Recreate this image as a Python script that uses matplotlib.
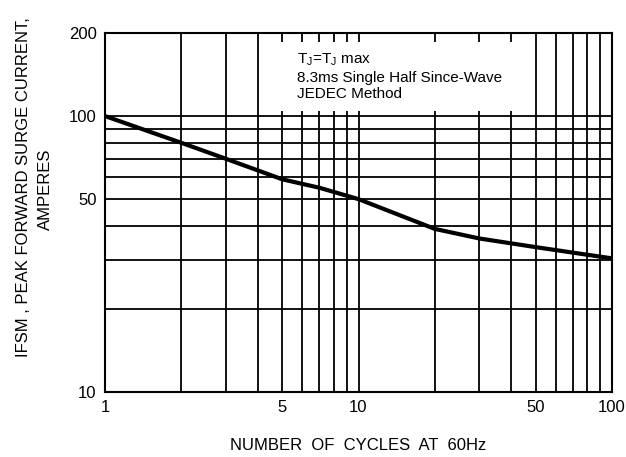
import matplotlib.pyplot as plt
from matplotlib.patches import Rectangle
from matplotlib.ticker import FixedLocator, NullFormatter

# Data
cycles = [1, 2, 3, 5, 7, 10, 20, 30, 50, 70, 100]
surge_current = [100, 80, 70, 59, 55, 50, 39, 36, 33.5, 32, 30.5]

x_ticks = [1, 5, 10, 50, 100]
y_ticks = [10, 50, 100, 200]
x_grid = [2, 3, 4, 5, 6, 7, 8, 9, 10, 20, 30, 40, 50, 60, 70, 80, 90]
y_grid = [20, 30, 40, 50, 60, 70, 80, 90, 100]

plt.rcParams['font.family'] = ['Liberation Sans', 'DejaVu Sans']
plt.rcParams['mathtext.fontset'] = 'custom'
plt.rcParams['mathtext.rm'] = 'Liberation Sans'

fig = plt.figure(figsize=(6.26, 4.57), dpi=100)
ax = fig.add_axes([105 / 626, 65 / 457, 507 / 626, 359 / 457])

ax.set_xscale('log')
ax.set_yscale('log')
ax.set_xlim(1, 100)
ax.set_ylim(10, 200)

# grid lines like the scanned datasheet
for xv in x_grid:
    ax.axvline(xv, color='black', lw=1.3, zorder=1)
for yv in y_grid:
    ax.axhline(yv, color='black', lw=1.3, zorder=1)

# white patch behind the note, grid only peeks out at the top
ax.add_patch(Rectangle((4.75, 104), 45.5 - 4.75, 185 - 104, facecolor='white',
                       edgecolor='none', zorder=2))

ax.plot(cycles, surge_current, color='black', lw=3, zorder=3)

ax.xaxis.set_major_locator(FixedLocator(x_ticks))
ax.yaxis.set_major_locator(FixedLocator(y_ticks))
ax.xaxis.set_minor_formatter(NullFormatter())
ax.yaxis.set_minor_formatter(NullFormatter())
ax.set_xticklabels([str(v) for v in x_ticks])
ax.set_yticklabels([str(v) for v in y_ticks])
ax.tick_params(which='both', length=0, labelsize=12, pad=6)
for s in ax.spines.values():
    s.set_linewidth(1.5)

ax.text(5.7, 172, "T$_\\mathrm{J}$=T$_\\mathrm{J}$ max\n8.3ms Single Half Since-Wave\nJEDEC Method",
        fontsize=11, va='top', ha='left', linespacing=1.25, zorder=4)

ax.set_xlabel("NUMBER  OF  CYCLES  AT  60Hz", fontsize=12, labelpad=16)
fig.text(0.038, 0.59, "IFSM , PEAK FORWARD SURGE CURRENT,", rotation=90,
         fontsize=12, ha='center', va='center')
fig.text(0.073, 0.585, "AMPERES", rotation=90, fontsize=12,
         ha='center', va='center')

fig.savefig("out.png", dpi=100)
